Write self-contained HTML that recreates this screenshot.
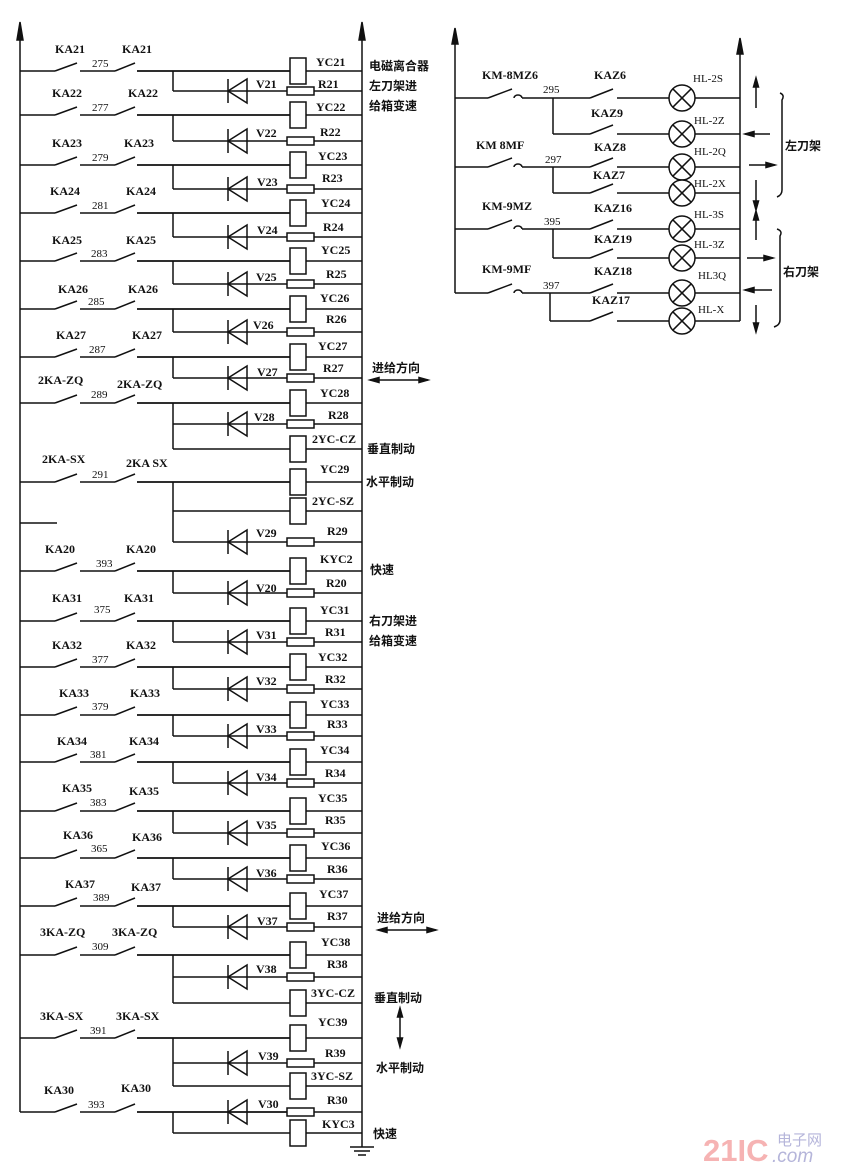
<!DOCTYPE html>
<html><head><meta charset="utf-8">
<style>
html,body{margin:0;padding:0;background:#fff;}
svg{display:block;}
text{font-family:"Liberation Serif","Noto Serif CJK SC",serif;font-weight:bold;fill:#111;}
.l{font-size:12px;}
.n{font-size:11px;font-weight:normal;}
.c{font-family:"Liberation Sans","Noto Sans CJK SC",sans-serif;font-size:12px;font-weight:bold;}
</style></head>
<body>
<svg id="s" width="843" height="1173" viewBox="0 0 843 1173" xmlns="http://www.w3.org/2000/svg">
<g id="g" stroke="#111" stroke-width="1.5" fill="none"></g>
<g id="t">
<text class="l" x="55" y="53">KA21</text><text class="n" x="92" y="67">275</text><text class="l" x="122" y="53">KA21</text>
<text class="l" x="52" y="97">KA22</text><text class="n" x="92" y="111">277</text><text class="l" x="128" y="97">KA22</text>
<text class="l" x="52" y="147">KA23</text><text class="n" x="92" y="161">279</text><text class="l" x="124" y="147">KA23</text>
<text class="l" x="50" y="195">KA24</text><text class="n" x="92" y="209">281</text><text class="l" x="126" y="195">KA24</text>
<text class="l" x="52" y="244">KA25</text><text class="n" x="91" y="257">283</text><text class="l" x="126" y="244">KA25</text>
<text class="l" x="58" y="293">KA26</text><text class="n" x="88" y="305">285</text><text class="l" x="128" y="293">KA26</text>
<text class="l" x="56" y="339">KA27</text><text class="n" x="89" y="353">287</text><text class="l" x="132" y="339">KA27</text>
<text class="l" x="38" y="384">2KA-ZQ</text><text class="n" x="91" y="398">289</text><text class="l" x="117" y="388">2KA-ZQ</text>
<text class="l" x="42" y="463">2KA-SX</text><text class="n" x="92" y="478">291</text><text class="l" x="126" y="467">2KA SX</text>
<text class="l" x="45" y="553">KA20</text><text class="n" x="96" y="567">393</text><text class="l" x="126" y="553">KA20</text>
<text class="l" x="52" y="602">KA31</text><text class="n" x="94" y="613">375</text><text class="l" x="124" y="602">KA31</text>
<text class="l" x="52" y="649">KA32</text><text class="n" x="92" y="663">377</text><text class="l" x="126" y="649">KA32</text>
<text class="l" x="59" y="697">KA33</text><text class="n" x="92" y="710">379</text><text class="l" x="130" y="697">KA33</text>
<text class="l" x="57" y="745">KA34</text><text class="n" x="90" y="758">381</text><text class="l" x="129" y="745">KA34</text>
<text class="l" x="62" y="792">KA35</text><text class="n" x="90" y="806">383</text><text class="l" x="129" y="795">KA35</text>
<text class="l" x="63" y="839">KA36</text><text class="n" x="91" y="852">365</text><text class="l" x="132" y="841">KA36</text>
<text class="l" x="65" y="888">KA37</text><text class="n" x="93" y="901">389</text><text class="l" x="131" y="891">KA37</text>
<text class="l" x="40" y="936">3KA-ZQ</text><text class="n" x="92" y="950">309</text><text class="l" x="112" y="936">3KA-ZQ</text>
<text class="l" x="40" y="1020">3KA-SX</text><text class="n" x="90" y="1034">391</text><text class="l" x="116" y="1020">3KA-SX</text>
<text class="l" x="44" y="1094">KA30</text><text class="n" x="88" y="1108">393</text><text class="l" x="121" y="1092">KA30</text>
<text class="l" x="316" y="66">YC21</text><text class="l" x="318" y="88">R21</text><text class="l" x="256" y="88">V21</text>
<text class="l" x="316" y="111">YC22</text><text class="l" x="320" y="136">R22</text><text class="l" x="256" y="137">V22</text>
<text class="l" x="318" y="160">YC23</text><text class="l" x="322" y="182">R23</text><text class="l" x="257" y="186">V23</text>
<text class="l" x="321" y="207">YC24</text><text class="l" x="323" y="231">R24</text><text class="l" x="257" y="234">V24</text>
<text class="l" x="321" y="254">YC25</text><text class="l" x="326" y="278">R25</text><text class="l" x="256" y="281">V25</text>
<text class="l" x="320" y="302">YC26</text><text class="l" x="326" y="323">R26</text><text class="l" x="253" y="329">V26</text>
<text class="l" x="318" y="350">YC27</text><text class="l" x="323" y="372">R27</text><text class="l" x="257" y="376">V27</text>
<text class="l" x="320" y="397">YC28</text><text class="l" x="328" y="419">R28</text><text class="l" x="254" y="421">V28</text>
<text class="l" x="312" y="443">2YC-CZ</text>
<text class="l" x="320" y="473">YC29</text>
<text class="l" x="312" y="505">2YC-SZ</text><text class="l" x="327" y="535">R29</text><text class="l" x="256" y="537">V29</text>
<text class="l" x="320" y="563">KYC2</text><text class="l" x="326" y="587">R20</text><text class="l" x="256" y="592">V20</text>
<text class="l" x="320" y="614">YC31</text><text class="l" x="325" y="636">R31</text><text class="l" x="256" y="639">V31</text>
<text class="l" x="318" y="661">YC32</text><text class="l" x="325" y="683">R32</text><text class="l" x="256" y="685">V32</text>
<text class="l" x="320" y="708">YC33</text><text class="l" x="327" y="728">R33</text><text class="l" x="256" y="733">V33</text>
<text class="l" x="320" y="754">YC34</text><text class="l" x="325" y="777">R34</text><text class="l" x="256" y="781">V34</text>
<text class="l" x="318" y="802">YC35</text><text class="l" x="325" y="824">R35</text><text class="l" x="256" y="829">V35</text>
<text class="l" x="321" y="850">YC36</text><text class="l" x="327" y="873">R36</text><text class="l" x="256" y="877">V36</text>
<text class="l" x="319" y="898">YC37</text><text class="l" x="327" y="920">R37</text><text class="l" x="257" y="925">V37</text>
<text class="l" x="321" y="946">YC38</text><text class="l" x="327" y="968">R38</text><text class="l" x="256" y="973">V38</text>
<text class="l" x="311" y="997">3YC-CZ</text>
<text class="l" x="318" y="1026">YC39</text><text class="l" x="325" y="1057">R39</text><text class="l" x="258" y="1060">V39</text>
<text class="l" x="311" y="1080">3YC-SZ</text><text class="l" x="327" y="1104">R30</text><text class="l" x="258" y="1108">V30</text>
<text class="l" x="322" y="1128">KYC3</text>
<text class="c" x="369" y="70">电磁离合器</text>
<text class="c" x="369" y="90">左刀架进</text>
<text class="c" x="369" y="110">给箱变速</text>
<text class="c" x="372" y="372">进给方向</text>
<text class="c" x="367" y="453">垂直制动</text>
<text class="c" x="366" y="486">水平制动</text>
<text class="c" x="370" y="574">快速</text>
<text class="c" x="369" y="625">右刀架进</text>
<text class="c" x="369" y="645">给箱变速</text>
<text class="c" x="377" y="922">进给方向</text>
<text class="c" x="374" y="1002">垂直制动</text>
<text class="c" x="376" y="1072">水平制动</text>
<text class="c" x="373" y="1138">快速</text>
<text class="l" x="482" y="79">KM-8MZ6</text><text class="n" x="543" y="93">295</text><text class="l" x="594" y="79">KAZ6</text>
<text class="l" x="591" y="117">KAZ9</text>
<text class="l" x="476" y="149">KM 8MF</text><text class="n" x="545" y="163">297</text><text class="l" x="594" y="151">KAZ8</text>
<text class="l" x="593" y="179">KAZ7</text>
<text class="l" x="482" y="210">KM-9MZ</text><text class="n" x="544" y="225">395</text><text class="l" x="594" y="212">KAZ16</text>
<text class="l" x="594" y="243">KAZ19</text>
<text class="l" x="482" y="273">KM-9MF</text><text class="n" x="543" y="289">397</text><text class="l" x="594" y="275">KAZ18</text>
<text class="l" x="592" y="304">KAZ17</text>
<text class="n" x="693" y="82">HL-2S</text>
<text class="n" x="694" y="124">HL-2Z</text>
<text class="n" x="694" y="155">HL-2Q</text>
<text class="n" x="694" y="187">HL-2X</text>
<text class="n" x="694" y="218">HL-3S</text>
<text class="n" x="694" y="248">HL-3Z</text>
<text class="n" x="698" y="279">HL3Q</text>
<text class="n" x="698" y="313">HL-X</text>
<text class="c" x="785" y="150">左刀架</text>
<text class="c" x="783" y="276">右刀架</text>
<text x="703" y="1161" style="font-family:'Liberation Sans',sans-serif;font-size:31px;font-weight:bold;fill:#f6b3b3;">21IC</text>
<text x="777" y="1145" style="font-family:'Noto Sans CJK SC',sans-serif;font-size:15px;font-weight:normal;fill:#b5b5da;">电子网</text>
<text x="772" y="1162" style="font-family:'Liberation Sans',sans-serif;font-size:19px;font-style:italic;font-weight:normal;fill:#b5b5da;">.com</text>
</g>
</svg>
<script>
(function(){
var g=document.getElementById('g'),NS='http://www.w3.org/2000/svg';
function el(n,a){var e=document.createElementNS(NS,n);for(var k in a)e.setAttribute(k,a[k]);g.appendChild(e);return e;}
function L(x1,y1,x2,y2){el('line',{x1:x1,y1:y1,x2:x2,y2:y2});}
function P(d,f){el('path',{d:d,fill:f||'none'});}
var BL=20,BR=362,BX=173;
L(BL,38,BL,1112);P('M'+BL+' 22 L'+(BL-3)+' 40 L'+(BL+3)+' 40 Z','#111');
L(BR,38,BR,1147);P('M'+BR+' 22 L'+(BR-3)+' 40 L'+(BR+3)+' 40 Z','#111');
L(350,1147,374,1147);L(354,1151,370,1151);L(358,1155,366,1155);
function sw(y){L(BL,y,55,y);L(55,y,77,y-8);L(80,y,115,y);L(115,y,135,y-8);L(137,y,290,y);}
function coil(y,from){L(from,y,290,y);el('rect',{x:290,y:y-13,width:16,height:26,fill:'#fff'});L(306,y,BR,y);}
function diode(y,from){L(from,y,287,y);P('M228 '+(y-12)+' L228 '+(y+12));P('M228 '+y+' L247 '+(y-12)+' L247 '+(y+12)+' Z');el('rect',{x:287,y:y-4,width:27,height:8,fill:'#fff'});L(314,y,BR,y);}
var std=[[71,91],[115,141],[165,189],[213,237],[261,284],[309,332],[357,378],[571,593],[621,642],[667,689],[715,736],[762,783],[811,833],[858,879],[906,927]];
std.forEach(function(r){sw(r[0]);coil(r[0],137);L(BX,r[0],BX,r[1]);diode(r[1],BX);});
sw(403);coil(403,137);L(BX,403,BX,449);diode(424,BX);coil(449,BX);
sw(482);coil(482,137);L(BX,482,BX,542);coil(511,BX);diode(542,BX);L(BL,523,57,523);
sw(955);coil(955,137);L(BX,955,BX,1003);diode(977,BX);coil(1003,BX);
sw(1038);coil(1038,137);L(BX,1038,BX,1086);diode(1063,BX);coil(1086,BX);
sw(1112);diode(1112,137);L(BX,1112,BX,1133);coil(1133,BX);
function ah(x,y,dir){
 var d=dir>0?'M'+x+' '+y+' L'+(x-9)+' '+(y-2.5)+' L'+(x-9)+' '+(y+2.5)+' Z':'M'+x+' '+y+' L'+(x+9)+' '+(y-2.5)+' L'+(x+9)+' '+(y+2.5)+' Z';P(d,'#111');}
function av(x,y,dir){var d=dir>0?'M'+x+' '+y+' L'+(x-2.5)+' '+(y-9)+' L'+(x+2.5)+' '+(y-9)+' Z':'M'+x+' '+y+' L'+(x-2.5)+' '+(y+9)+' L'+(x+2.5)+' '+(y+9)+' Z';P(d,'#111');}
L(370,380,428,380);ah(370,380,-1);ah(428,380,1);
L(378,930,436,930);ah(378,930,-1);ah(436,930,1);
L(400,1010,400,1045);av(400,1008,-1);av(400,1047,1);
var RL=455,RR=740,LX=682;
L(RL,40,RL,293);P('M'+RL+' 28 L'+(RL-3)+' 44 L'+(RL+3)+' 44 Z','#111');
L(RR,50,RR,321);P('M'+RR+' 38 L'+(RR-3)+' 54 L'+(RR+3)+' 54 Z','#111');
function lamp(y){el('circle',{cx:LX,cy:y,r:13,fill:'#fff'});var k=9.2;L(LX-k,y-k,LX+k,y+k);L(LX-k,y+k,LX+k,y-k);L(LX+13,y,RR,y);}
function kaz(y,from){L(from,y,590,y);L(590,y,613,y-9);L(617,y,LX-13,y);}
function km(y,by,bx){L(RL,y,488,y);L(488,y,512,y-9);P('M514 '+y+' a4 3 0 1 1 8 0');L(522,y,590,y);kaz(y,590);lamp(y);L(bx,y,bx,by);kaz(by,bx);lamp(by);}
km(98,134,553);km(167,193,553);km(229,258,553);km(293,321,550);
var ax=756;
L(ax,80,ax,108);av(ax,78,-1);
L(745,134,770,134);ah(745,134,-1);
L(749,165,775,165);ah(775,165,1);
L(ax,180,ax,208);av(ax,210,1);
L(ax,213,ax,240);av(ax,211,-1);
L(747,258,773,258);ah(773,258,1);
L(745,290,772,290);ah(745,290,-1);
L(ax,305,ax,330);av(ax,332,1);
P('M780 93 Q785 95 782 100 L782 190 Q782 195 777 197');
P('M777 229 Q783 231 780 236 L780 320 Q780 325 774 327');
})();
</script>
</body></html>
